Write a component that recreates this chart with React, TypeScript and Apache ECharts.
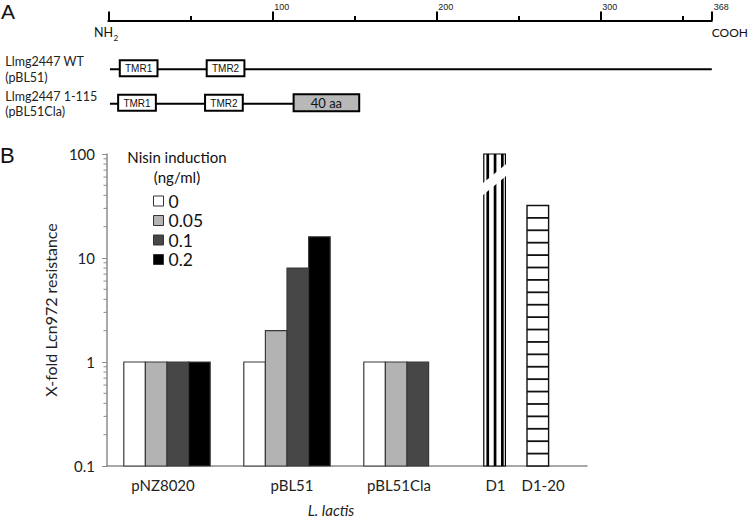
import React, { useEffect, useRef } from 'react';
import * as echarts from 'echarts';

// ---------- Panel A data ----------
const rulerMin = 0;
const rulerMax = 368;
const rulerInterval = 100;
const constructLabels = ['Llmg2447 WT\n(pBL51)', 'Llmg2447 1-115\n(pBL51Cla)'];
const constructStart = [1, 1];
const constructEnd = [368, 113];
const domainNames = ['TMR1', 'TMR2', 'TMR1', 'TMR2', '40 aa'];
const domainRows = [0, 0, 1, 1, 1];
const domainStart = [7, 60, 6, 59, 113];
const domainEnd = [30, 83, 29, 82, 153];

// ---------- Panel B data ----------
const strains = ['pNZ8020', 'pBL51', 'pBL51Cla', 'D1'];
const nisinLevels = ['0', '0.05', '0.1', '0.2'];
const nisin0 = [1, 1, 1, null];
const nisin005 = [1, 2, 1, null];
const nisin01 = [1, 8, 1, null];
const nisin02 = [1, 16, null, null];
const levelSeries = [nisin0, nisin005, nisin01, nisin02];
const mutantNames = ['D1', 'D1-20'];
const mutantValues = [100, 32];
const yTickLabels = ['0.1', '1', '10', '100'];
const yMinorTicks = [0.2, 0.3, 0.4, 0.5, 0.6, 0.7, 0.8, 0.9, 2, 3, 4, 5, 6, 7, 8, 9, 20, 30, 40, 50, 60, 70, 80, 90];

const levelColors = ['#ffffff', '#b3b3b3', '#474747', '#000000'];
const BAR_FRAC = 0.18;
const FONT = 'Lato';

function barGeom(api: any, slot: number) {
  const cat = api.value(0);
  const v = api.value(1);
  const top = api.coord([cat, v]);
  const base = api.coord([cat, 0.1]);
  const band = api.size([1, 1], [cat, 1])[0];
  const bw = band * BAR_FRAC;
  const x0 = top[0] - 2 * bw + slot * bw;
  return { x0, bw, yTop: top[1], yBase: base[1] };
}

function buildOption() {
  const series: any[] = [];

  // Panel A backbones
  series.push({
    type: 'custom',
    xAxisIndex: 0,
    yAxisIndex: 0,
    silent: true,
    encode: { x: [0, 2], y: 1 },
    data: constructLabels.map((_, i) => [constructStart[i], i, constructEnd[i]]),
    renderItem: (params: any, api: any) => {
      const p0 = api.coord([api.value(0), api.value(1)]);
      const p1 = api.coord([api.value(2), api.value(1)]);
      return {
        type: 'line',
        shape: { x1: p0[0], y1: p0[1], x2: p1[0], y2: p1[1] },
        style: { stroke: '#000', lineWidth: 2 },
      };
    },
  });

  // Panel A domains
  series.push({
    type: 'custom',
    xAxisIndex: 0,
    yAxisIndex: 0,
    silent: true,
    encode: { x: [0, 2], y: 1 },
    data: domainNames.map((n, i) => [domainStart[i], domainRows[i], domainEnd[i], n]),
    renderItem: (params: any, api: any) => {
      const idx = params.dataIndex;
      const name = domainNames[idx];
      const isExt = name.indexOf('aa') >= 0;
      const p0 = api.coord([api.value(0), api.value(1)]);
      const p1 = api.coord([api.value(2), api.value(1)]);
      const h = isExt ? 17 : 16;
      const cy = p0[1] - 1;
      return {
        type: 'group',
        children: [
          {
            type: 'rect',
            shape: { x: p0[0], y: cy - h / 2, width: p1[0] - p0[0], height: h },
            style: { fill: isExt ? '#b8b8b8' : '#ffffff', stroke: '#000', lineWidth: 2 },
          },
          {
            type: 'text',
            style: {
              text: name,
              x: (p0[0] + p1[0]) / 2,
              y: cy + 0.5,
              align: 'center',
              verticalAlign: 'middle',
              textAlign: 'center',
              textVerticalAlign: 'middle',
              fontSize: isExt ? 13 : 10,
              fontFamily: isExt ? FONT : 'Liberation Sans',
              fill: '#111',
            },
          },
        ],
      };
    },
  });

  // Panel B bars per nisin level
  levelSeries.forEach((vals, s) => {
    series.push({
      type: 'custom',
      name: nisinLevels[s],
      xAxisIndex: 1,
      yAxisIndex: 1,
      itemStyle: { color: levelColors[s], borderColor: '#333', borderWidth: 1 },
      data: vals.map((v, i) => (v == null ? null : [i, v])).filter((d) => d != null),
      renderItem: (params: any, api: any) => {
        const g = barGeom(api, s);
        return {
          type: 'rect',
          shape: { x: g.x0, y: g.yTop, width: g.bw, height: g.yBase - g.yTop },
          style: { fill: levelColors[s], stroke: '#3a3a3a', lineWidth: 1.2 },
        };
      },
    });
  });

  // D1 (vertical stripes, broken top)
  series.push({
    type: 'custom',
    name: mutantNames[0],
    xAxisIndex: 1,
    yAxisIndex: 1,
    silent: true,
    data: [[3, mutantValues[0]]],
    renderItem: (params: any, api: any) => {
      const g = barGeom(api, 0);
      const h = g.yBase - g.yTop;
      const children: any[] = [
        { type: 'rect', shape: { x: g.x0, y: g.yTop, width: g.bw, height: h }, style: { fill: '#fff', stroke: '#000', lineWidth: 1.2 } },
      ];
      for (let i = 0; i < 3; i++) {
        children.push({ type: 'rect', shape: { x: g.x0 + 2.6 + i * 7.3, y: g.yTop, width: 2.7, height: h }, style: { fill: '#000' } });
      }
      children.push({
        type: 'polygon',
        shape: {
          points: [
            [g.x0 - 2, g.yTop + 30],
            [g.x0 + g.bw + 2, g.yTop + 9],
            [g.x0 + g.bw + 2, g.yTop + 21],
            [g.x0 - 2, g.yTop + 42],
          ],
        },
        style: { fill: '#fff' },
      });
      return { type: 'group', children };
    },
  });

  // D1-20 (horizontal stripes)
  series.push({
    type: 'custom',
    name: mutantNames[1],
    xAxisIndex: 1,
    yAxisIndex: 1,
    silent: true,
    data: [[3, mutantValues[1]]],
    renderItem: (params: any, api: any) => {
      const g = barGeom(api, 2);
      const h = g.yBase - g.yTop;
      const n = 21;
      const children: any[] = [
        { type: 'rect', shape: { x: g.x0, y: g.yTop, width: g.bw, height: h }, style: { fill: '#fff', stroke: '#111', lineWidth: 1.4 } },
      ];
      for (let k = 1; k < n; k++) {
        const y = g.yTop + (k * h) / n;
        children.push({ type: 'line', shape: { x1: g.x0, y1: y, x2: g.x0 + g.bw, y2: y }, style: { stroke: '#111', lineWidth: 1.8 } });
      }
      return { type: 'group', children };
    },
  });

  // minor log ticks on y axis
  series.push({
    type: 'custom',
    xAxisIndex: 1,
    yAxisIndex: 1,
    silent: true,
    clip: false,
    data: yMinorTicks.map((v) => [0, v]),
    renderItem: (params: any, api: any) => {
      const p = api.coord([0, api.value(1)]);
      const x = params.coordSys.x;
      return {
        type: 'line',
        shape: { x1: x - 3.5, y1: p[1], x2: x, y2: p[1] },
        style: { stroke: '#8c8c8c', lineWidth: 1 },
      };
    },
  });

  const labelRich: any = {
    c0: { fontSize: 15, fontFamily: FONT, color: '#222', padding: [0, 8, 0, 0] },
    c1: { fontSize: 15, fontFamily: FONT, color: '#222', padding: [0, 0, 0, 10] },
    c2: { fontSize: 15, fontFamily: FONT, color: '#222', padding: [0, 16, 0, 0] },
    m: { fontSize: 15, fontFamily: FONT, color: '#222' },
    g: { width: 16 },
    t: { width: 4 },
  };

  return {
    animation: false,
    backgroundColor: '#ffffff',
    textStyle: { fontFamily: FONT },
    grid: [
      { left: 108.3, top: 52, width: 603.5, height: 69 },
      { left: 107, top: 154, width: 480, height: 318 },
    ],
    xAxis: [
      {
        type: 'value',
        gridIndex: 0,
        position: 'top',
        offset: 31.5,
        min: rulerMin,
        max: rulerMax,
        interval: rulerInterval,
        axisLine: { show: true, lineStyle: { color: '#000', width: 2 } },
        axisTick: { show: true, length: 9, lineStyle: { color: '#000', width: 2 } },
        minorTick: { show: true, splitNumber: 2, length: 4.5, lineStyle: { color: '#000', width: 2 } },
        splitLine: { show: false },
        axisLabel: {
          formatter: (v: number) => (v === 0 ? '' : String(v)),
          align: 'left',
          margin: 9,
          fontSize: 9,
          fontFamily: 'Liberation Sans',
          color: '#222',
          padding: [0, 0, 0, 2],
        },
      },
      {
        type: 'category',
        gridIndex: 1,
        data: strains,
        axisLine: { show: true, lineStyle: { color: '#8c8c8c', width: 1.5 } },
        axisTick: { show: false },
        axisLabel: {
          margin: 11,
          interval: 0,
          fontSize: 15,
          color: '#222',
          formatter: (v: string, i: number) =>
            i === 3 ? `{m|${mutantNames[0]}}{g|}{m|${mutantNames[1]}}{t|}` : `{c${i}|${v}}`,
          rich: labelRich,
        },
        name: 'L. lactis',
        nameLocation: 'middle',
        nameGap: 36,
        nameTextStyle: { fontSize: 15, fontStyle: 'italic', color: '#222', padding: [0, 32, 0, 0] },
      },
    ],
    yAxis: [
      {
        type: 'category',
        gridIndex: 0,
        inverse: true,
        data: constructLabels,
        axisLine: { show: false },
        axisTick: { show: false },
        axisLabel: { align: 'left', margin: 103, fontSize: 12.5, lineHeight: 15.5, color: '#222' },
      },
      {
        type: 'log',
        gridIndex: 1,
        logBase: 10,
        min: 0.1,
        max: 100,
        axisLine: { show: true, lineStyle: { color: '#8c8c8c', width: 1.5 } },
        axisTick: { show: true, length: 5, lineStyle: { color: '#8c8c8c', width: 1 } },
        splitLine: { show: false },
        axisLabel: {
          margin: 12,
          fontSize: 15,
          color: '#222',
          formatter: (v: number, i: number) => yTickLabels[i] ?? String(v),
        },
        name: 'X-fold Lcn972 resistance',
        nameLocation: 'middle',
        nameGap: 35,
        nameTextStyle: { fontSize: 16, color: '#222' },
      },
    ],
    legend: {
      orient: 'vertical',
      left: 153,
      top: 191.25,
      padding: 0,
      itemWidth: 10,
      itemHeight: 10,
      itemGap: 0,
      icon: 'rect',
      selectedMode: false,
      textStyle: { fontSize: 17.5, lineHeight: 19.5, color: '#111', fontFamily: FONT },
      data: nisinLevels.map((n, i) => ({
        name: n,
        itemStyle: { color: levelColors[i], borderColor: '#333', borderWidth: 1 },
      })),
    },
    graphic: [
      { type: 'text', style: { text: 'A', x: 1, y: 1, fontSize: 21, fontFamily: 'Liberation Sans', fill: '#111' } },
      { type: 'text', style: { text: 'B', x: 0, y: 144, fontSize: 22, fontFamily: 'Liberation Sans', fill: '#111' } },
      { type: 'text', style: { text: 'NH', x: 94, y: 26, fontSize: 12.5, fontFamily: FONT, fill: '#111' } },
      { type: 'text', style: { text: '2', x: 113.5, y: 34, fontSize: 8, fontFamily: FONT, fill: '#111' } },
      {
        type: 'text',
        style: {
          text: 'COOH',
          x: 748,
          y: 26,
          align: 'right',
          textAlign: 'right',
          fontSize: 12,
          fontFamily: FONT,
          fill: '#111',
        },
      },
      {
        type: 'text',
        style: {
          text: 'Nisin induction',
          x: 177,
          y: 149,
          align: 'center',
          textAlign: 'center',
          fontSize: 15,
          fontFamily: FONT,
          fill: '#111',
        },
      },
      {
        type: 'text',
        style: {
          text: '(ng/ml)',
          x: 177,
          y: 169,
          align: 'center',
          textAlign: 'center',
          fontSize: 15,
          fontFamily: FONT,
          fill: '#111',
        },
      },
    ],
    series,
  };
}

export default function App() {
  const ref = useRef<HTMLDivElement>(null);
  useEffect(() => {
    if (!ref.current) return;
    const chart = echarts.init(ref.current, null, { renderer: 'svg' });
    chart.setOption(buildOption() as any);
    return () => chart.dispose();
  }, []);
  return (
    <div
      ref={ref}
      style={{ position: 'fixed', left: 0, top: 0, width: 750, height: 522, background: '#fff' }}
    />
  );
}
